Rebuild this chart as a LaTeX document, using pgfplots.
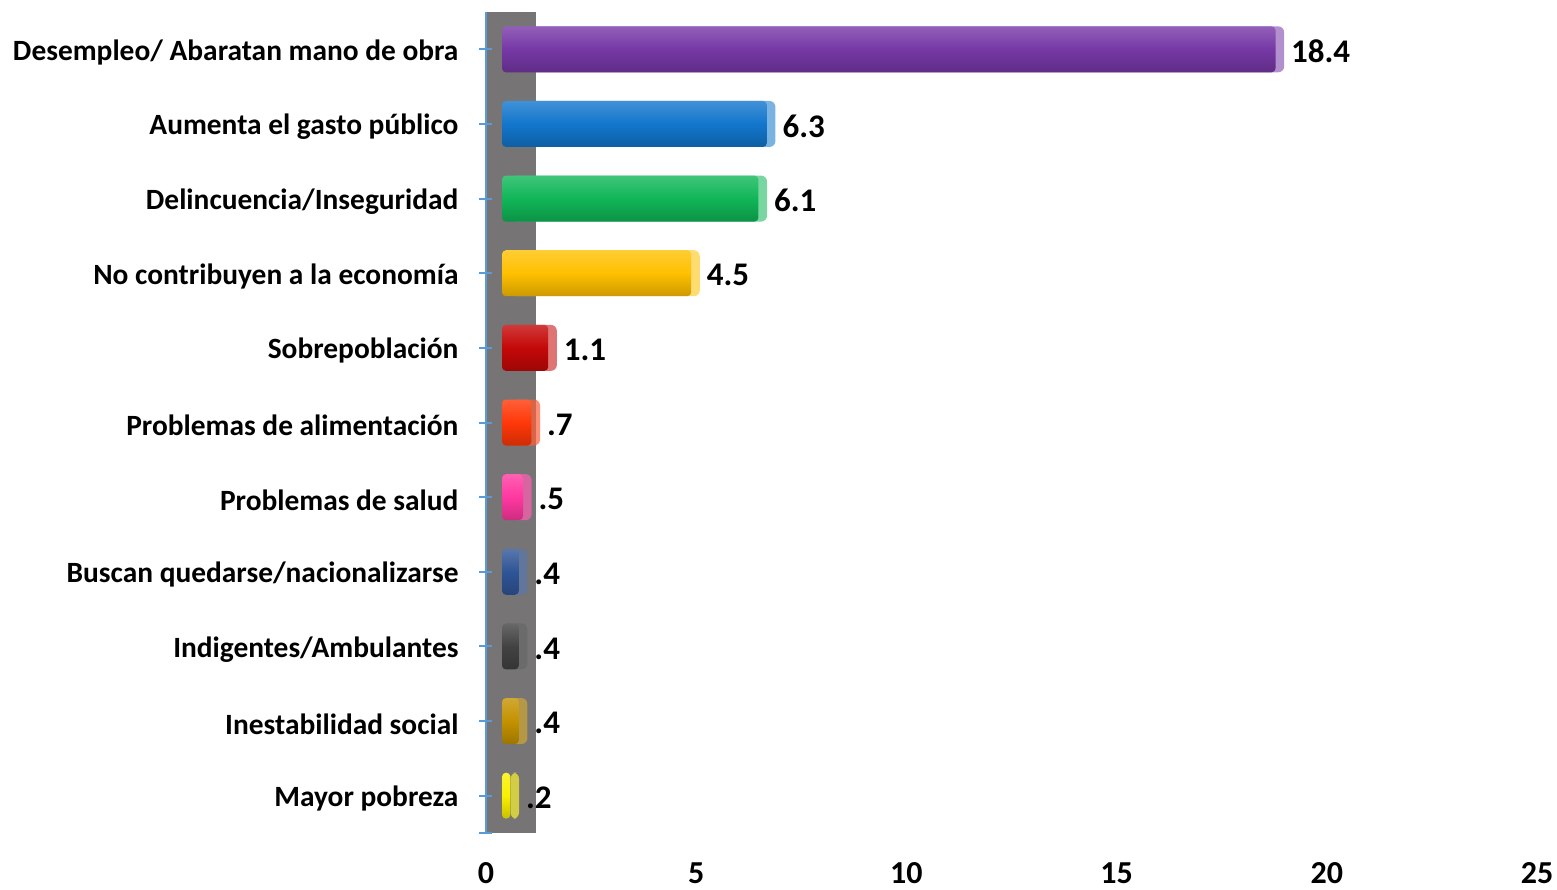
\documentclass[border=0pt]{standalone}
\usepackage{fontspec}
\setmainfont{Carlito}
\usepackage{pgfplots}
\pgfplotsset{compat=1.18}
\definecolor{axisblue}{RGB}{91,155,213}
\definecolor{wallgray}{RGB}{118,116,116}
\definecolor{cpurple}{RGB}{118,56,166}
\definecolor{cblue}{RGB}{18,118,204}
\definecolor{cgreen}{RGB}{16,182,88}
\definecolor{cgold}{RGB}{255,192,0}
\definecolor{cred}{RGB}{196,8,8}
\definecolor{corange}{RGB}{255,56,8}
\definecolor{cpink}{RGB}{255,56,160}
\definecolor{cdblue}{RGB}{47,85,151}
\definecolor{cdgray}{RGB}{66,66,66}
\definecolor{cdgold}{RGB}{196,146,0}
\definecolor{cyellow}{RGB}{250,240,0}
\pgfplotsset{
  barframe/.style={
    scale only axis, width=525.5pt, height=410.5pt,
    xmin=0, xmax=25, ymin=-0.5, ymax=10.5, y dir=reverse,
    axis lines=none, clip=false,
    xbar, bar width=23pt, bar shift=0pt,
  },
  back/.style={draw=none, fill=#1!80!white, fill opacity=0.7, rounded corners=3pt},
  front/.style={draw=none, rounded corners=2pt, top color=#1!80!white, bottom color=#1!80!black, middle color=#1},
}
\begin{document}
\begin{tikzpicture}[font=\fontsize{14.7}{17}\selectfont\bfseries]
\useasboundingbox (-243pt,-28pt) rectangle (535.5pt,416.5pt);
\begin{axis}[
  at={(0,0)}, anchor=south west,
  scale only axis, width=525.5pt, height=410.5pt,
  xmin=0, xmax=25, ymin=-0.5, ymax=10.5, y dir=reverse,
  axis x line=bottom, axis y line=left,
  axis line style={-},
  x axis line style={draw=none},
  y axis line style={draw=axisblue, line width=1.2pt},
  xtick={0,5,10,15,20,25},
  xtick style={draw=none},
  ytick={0,...,10},
  extra y ticks={10.5}, extra y tick labels={},
  ytick style={draw=axisblue, line width=1pt},
  major tick length=6.5pt, tick align=center,
  yticklabels={Desempleo/ Abaratan mano de obra, Aumenta el gasto público, Delincuencia/Inseguridad, No contribuyen a la economía, Sobrepoblación, Problemas de alimentación, Problemas de salud, Buscan quedarse/nacionalizarse, Indigentes/Ambulantes, Inestabilidad social, Mayor pobreza},
  /pgf/number format/assume math mode=true,
  yticklabel style={font=\fontsize{14.7}{17}\selectfont\bfseries, xshift=-7pt, yshift=-1.5pt},
  xticklabel style={font=\fontsize{16}{18}\selectfont\bfseries, yshift=-11pt, inner sep=0.5pt, text depth=0pt},
  axis on top,
]
\fill[wallgray] (axis cs:0,-0.5) rectangle (axis cs:1.2,10.5);
\end{axis}
% back (depth) faces of the 3D bars, with the value labels
\begin{axis}[
  at={(12.3pt,0)}, anchor=south west, barframe,
  nodes near coords align=horizontal,
  every node near coord/.append style={font=\fontsize{16.5}{19}\selectfont\bfseries, black, text opacity=1, fill opacity=1, xshift=0pt, yshift=-1pt},
]
\addplot[back=cpurple, nodes near coords={18.4}] coordinates {(18.4,0)};
\addplot[back=cblue, nodes near coords={6.3}] coordinates {(6.3,1)};
\addplot[back=cgreen, nodes near coords={6.1}] coordinates {(6.1,2)};
\addplot[back=cgold, nodes near coords={4.5}] coordinates {(4.5,3)};
\addplot[back=cred, nodes near coords={1.1}] coordinates {(1.1,4)};
\addplot[back=corange, nodes near coords={.7}] coordinates {(0.7,5)};
\addplot[back=cpink, nodes near coords={.5}] coordinates {(0.5,6)};
\addplot[back=cdblue, nodes near coords={.4}] coordinates {(0.4,7)};
\addplot[back=cdgray, nodes near coords={.4}] coordinates {(0.4,8)};
\addplot[back=cdgold, nodes near coords={.4}] coordinates {(0.4,9)};
\addplot[back=cyellow, nodes near coords={.2}] coordinates {(0.2,10)};
\end{axis}
% front faces of the bars
\begin{axis}[at={(8pt,0)}, anchor=south west, barframe]
\addplot[front=cpurple] coordinates {(18.4,0)};
\addplot[front=cblue] coordinates {(6.3,1)};
\addplot[front=cgreen] coordinates {(6.1,2)};
\addplot[front=cgold] coordinates {(4.5,3)};
\addplot[front=cred] coordinates {(1.1,4)};
\addplot[front=corange] coordinates {(0.7,5)};
\addplot[front=cpink] coordinates {(0.5,6)};
\addplot[front=cdblue] coordinates {(0.4,7)};
\addplot[front=cdgray] coordinates {(0.4,8)};
\addplot[front=cdgold] coordinates {(0.4,9)};
\addplot[front=cyellow] coordinates {(0.2,10)};
\end{axis}
\end{tikzpicture}
\end{document}
